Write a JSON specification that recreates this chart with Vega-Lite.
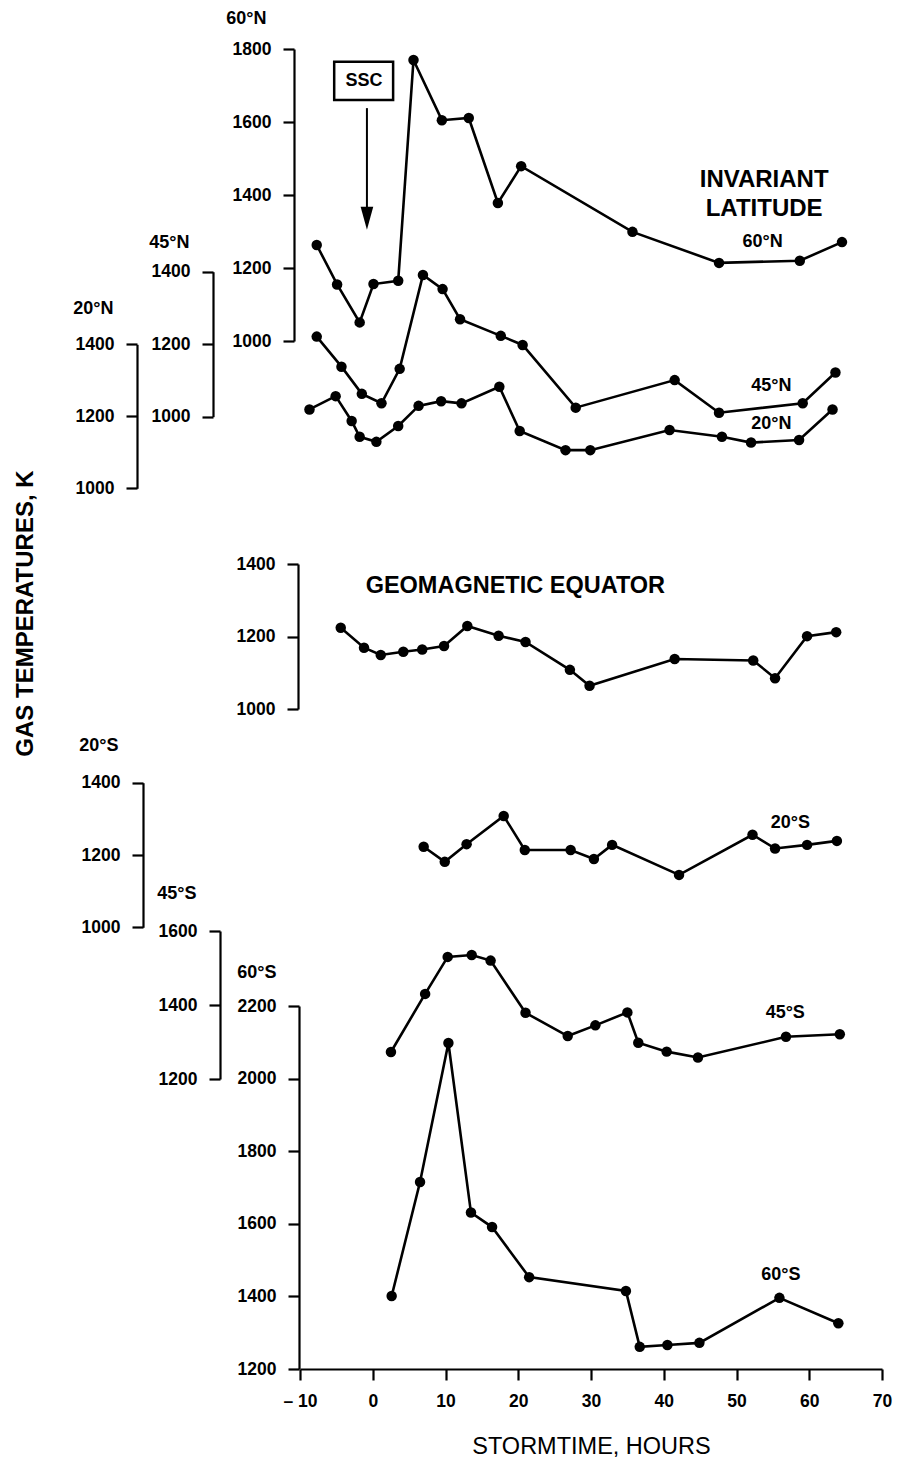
{
  "$schema": "https://vega.github.io/schema/vega-lite/v6.json",
  "width": 582,
  "height": 1369,
  "autosize": {"type": "none"},
  "padding": {"left": 300, "top": 0, "right": 19, "bottom": 90},
  "background": "white",
  "config": {
    "view": {"stroke": null},
    "font": "Liberation Sans",
    "mark": {"color": "black"},
    "line": {"color": "black", "strokeWidth": 2.6},
    "point": {"filled": true, "color": "black", "size": 110, "opacity": 1},
    "text": {"font": "Liberation Sans", "fontWeight": "bold", "color": "black", "align": "center", "baseline": "middle"},
    "axis": {
      "grid": false,
      "domainColor": "black",
      "domainWidth": 2.2,
      "tickColor": "black",
      "tickWidth": 2.2,
      "tickSize": 11,
      "labelPadding": 12,
      "labelFont": "Liberation Sans",
      "labelFontSize": 17.5,
      "labelFontWeight": "bold",
      "labelColor": "black",
      "titleFont": "Liberation Sans",
      "titleColor": "black",
      "titleFontWeight": "bold"
    }
  },
  "datasets": {
    "n60": [
      {"h": -7.7, "T": 1263}, {"h": -4.9, "T": 1155}, {"h": -1.8, "T": 1051}, {"h": 0.1, "T": 1156},
      {"h": 3.5, "T": 1165}, {"h": 5.6, "T": 1770}, {"h": 9.5, "T": 1605}, {"h": 13.2, "T": 1611},
      {"h": 17.2, "T": 1378}, {"h": 20.4, "T": 1479}, {"h": 35.7, "T": 1299}, {"h": 47.6, "T": 1214},
      {"h": 58.7, "T": 1220}, {"h": 64.5, "T": 1271}
    ],
    "n45": [
      {"h": -7.7, "T": 1221}, {"h": -4.3, "T": 1138}, {"h": -1.5, "T": 1063}, {"h": 1.2, "T": 1037},
      {"h": 3.7, "T": 1132}, {"h": 6.9, "T": 1391}, {"h": 9.6, "T": 1352}, {"h": 12.0, "T": 1269},
      {"h": 17.6, "T": 1223}, {"h": 20.6, "T": 1198}, {"h": 27.9, "T": 1025}, {"h": 41.5, "T": 1101},
      {"h": 47.6, "T": 1011}, {"h": 59.1, "T": 1037}, {"h": 63.6, "T": 1122}
    ],
    "n20": [
      {"h": -8.7, "T": 1219}, {"h": -5.1, "T": 1256}, {"h": -2.9, "T": 1187}, {"h": -1.8, "T": 1143},
      {"h": 0.5, "T": 1129}, {"h": 3.5, "T": 1173}, {"h": 6.3, "T": 1229}, {"h": 9.4, "T": 1242},
      {"h": 12.2, "T": 1236}, {"h": 17.4, "T": 1282}, {"h": 20.2, "T": 1159}, {"h": 26.5, "T": 1106},
      {"h": 29.9, "T": 1106}, {"h": 40.8, "T": 1162}, {"h": 48.0, "T": 1143}, {"h": 52.0, "T": 1127},
      {"h": 58.6, "T": 1134}, {"h": 63.2, "T": 1219}
    ],
    "eq": [
      {"h": -4.4, "T": 1224}, {"h": -1.2, "T": 1169}, {"h": 1.1, "T": 1149}, {"h": 4.2, "T": 1158},
      {"h": 6.8, "T": 1164}, {"h": 9.8, "T": 1174}, {"h": 13.0, "T": 1229}, {"h": 17.3, "T": 1202},
      {"h": 21.0, "T": 1185}, {"h": 27.1, "T": 1108}, {"h": 29.8, "T": 1064}, {"h": 41.5, "T": 1138},
      {"h": 52.3, "T": 1134}, {"h": 55.3, "T": 1085}, {"h": 59.7, "T": 1201}, {"h": 63.7, "T": 1212}
    ],
    "s20": [
      {"h": 7.0, "T": 1223}, {"h": 9.9, "T": 1181}, {"h": 12.9, "T": 1230}, {"h": 18.0, "T": 1308},
      {"h": 20.9, "T": 1214}, {"h": 27.2, "T": 1214}, {"h": 30.4, "T": 1189}, {"h": 32.9, "T": 1228},
      {"h": 42.1, "T": 1145}, {"h": 52.2, "T": 1256}, {"h": 55.3, "T": 1218}, {"h": 59.7, "T": 1228},
      {"h": 63.8, "T": 1239}
    ],
    "s45": [
      {"h": 2.5, "T": 1273}, {"h": 7.2, "T": 1430}, {"h": 10.3, "T": 1530}, {"h": 13.6, "T": 1535},
      {"h": 16.2, "T": 1520}, {"h": 21.0, "T": 1379}, {"h": 26.8, "T": 1316}, {"h": 30.6, "T": 1345},
      {"h": 35.0, "T": 1380}, {"h": 36.5, "T": 1298}, {"h": 40.4, "T": 1274}, {"h": 44.7, "T": 1258},
      {"h": 56.8, "T": 1314}, {"h": 64.2, "T": 1321}
    ],
    "s60": [
      {"h": 2.6, "T": 1401}, {"h": 6.5, "T": 1715}, {"h": 10.4, "T": 2098}, {"h": 13.5, "T": 1631},
      {"h": 16.4, "T": 1591}, {"h": 21.5, "T": 1453}, {"h": 34.8, "T": 1415}, {"h": 36.7, "T": 1261},
      {"h": 40.5, "T": 1266}, {"h": 44.9, "T": 1272}, {"h": 55.9, "T": 1396}, {"h": 64.0, "T": 1326}
    ],
    "lab_n60": [{"h": 53.6, "T": 1272, "label": "60°N"}],
    "lab_inv": [{"h": 53.8, "T": 1441, "label": "INVARIANT"}, {"h": 53.8, "T": 1361, "label": "LATITUDE"}],
    "ssc_box": [{"h": -5.3, "h2": 2.8, "T": 1660, "T2": 1765}],
    "ssc_text": [{"h": -1.2, "T": 1712, "label": "SSC"}],
    "ssc_arrow": [{"h": -0.8, "T": 1360, "T2": 1638}],
    "ssc_head": [{"h": -0.8, "T": 1336}],
    "lab_n45": [{"h": 54.8, "T": 1085, "label": "45°N"}],
    "lab_n20": [{"h": 54.8, "T": 1178, "label": "20°N"}],
    "lab_eq": [{"h": 19.6, "T": 1339, "label": "GEOMAGNETIC EQUATOR"}],
    "lab_s20": [{"h": 57.4, "T": 1289, "label": "20°S"}],
    "lab_s45": [{"h": 56.7, "T": 1379, "label": "45°S"}],
    "lab_s60": [{"h": 56.1, "T": 1459, "label": "60°S"}]
  },
  "encoding": {
    "x": {
      "field": "h",
      "type": "quantitative",
      "scale": {"domain": [-10, 70], "nice": false, "zero": false},
      "axis": {
        "values": [-10, 0, 10, 20, 30, 40, 50, 60, 70],
        "labelFlush": false,
        "labelExpr": "datum.value < 0 ? '– ' + (-datum.value) : datum.label",
        "format": "d",
        "title": "STORMTIME, HOURS",
        "titleFontSize": 23.5,
        "titleFontWeight": "normal",
        "titleBaseline": "alphabetic",
        "titleY": 84,
        "labelPadding": 12
      }
    }
  },
  "layer": [
    {
      "encoding": {
        "y": {
          "field": "T", "type": "quantitative",
          "scale": {"domain": [1000, 1800], "range": [341, 49], "nice": false, "zero": false},
          "axis": {"orient": "left", "offset": 6, "values": [1000, 1200, 1400, 1600, 1800], "format": "d",
                   "title": "60°N", "titleAngle": 0, "titleAlign": "right", "titleBaseline": "alphabetic", "titleFontSize": 18,
                   "titleX": -28, "titleY": 23}
        }
      },
      "layer": [
        {"data": {"name": "n60"}, "mark": "line"},
        {"data": {"name": "n60"}, "mark": "point"},
        {"data": {"name": "lab_n60"}, "mark": {"type": "text", "fontSize": 18}, "encoding": {"text": {"field": "label"}}},
        {"data": {"name": "lab_inv"}, "mark": {"type": "text", "fontSize": 24}, "encoding": {"text": {"field": "label"}}},
        {"data": {"name": "ssc_box"}, "mark": {"type": "rect", "fill": "white", "stroke": "black", "strokeWidth": 2.5},
         "encoding": {"x2": {"field": "h2"}, "y2": {"field": "T2"}}},
        {"data": {"name": "ssc_text"}, "mark": {"type": "text", "fontSize": 18}, "encoding": {"text": {"field": "label"}}},
        {"data": {"name": "ssc_arrow"}, "mark": {"type": "rule", "strokeWidth": 2}, "encoding": {"y2": {"field": "T2"}}},
        {"data": {"name": "ssc_head"}, "mark": {"type": "point", "shape": "M-0.55,-1L0.55,-1L0,1Z", "filled": true, "size": 529}}
      ]
    },
    {
      "encoding": {
        "y": {
          "field": "T", "type": "quantitative",
          "scale": {"domain": [1000, 1400], "range": [416.7, 271.7], "nice": false, "zero": false},
          "axis": {"orient": "left", "offset": 87, "values": [1000, 1200, 1400], "format": "d",
                   "title": "45°N", "titleAngle": 0, "titleAlign": "right", "titleBaseline": "alphabetic", "titleFontSize": 18,
                   "titleX": -24, "titleY": 247}
        }
      },
      "layer": [
        {"data": {"name": "n45"}, "mark": "line"},
        {"data": {"name": "n45"}, "mark": "point"},
        {"data": {"name": "lab_n45"}, "mark": {"type": "text", "fontSize": 18}, "encoding": {"text": {"field": "label"}}}
      ]
    },
    {
      "encoding": {
        "y": {
          "field": "T", "type": "quantitative",
          "scale": {"domain": [1000, 1400], "range": [488.3, 344.3], "nice": false, "zero": false},
          "axis": {"orient": "left", "offset": 163, "values": [1000, 1200, 1400], "format": "d",
                   "title": "20°N", "titleAngle": 0, "titleAlign": "right", "titleBaseline": "alphabetic", "titleFontSize": 18,
                   "titleX": -24, "titleY": 313}
        }
      },
      "layer": [
        {"data": {"name": "n20"}, "mark": "line"},
        {"data": {"name": "n20"}, "mark": "point"},
        {"data": {"name": "lab_n20"}, "mark": {"type": "text", "fontSize": 18}, "encoding": {"text": {"field": "label"}}}
      ]
    },
    {
      "encoding": {
        "y": {
          "field": "T", "type": "quantitative",
          "scale": {"domain": [1000, 1400], "range": [709, 564], "nice": false, "zero": false},
          "axis": {"orient": "left", "offset": 2, "values": [1000, 1200, 1400], "format": "d",
                   "title": "GAS TEMPERATURES, K", "titleAngle": 270, "titleAlign": "center", "titleBaseline": "middle",
                   "titleFontSize": 24, "titleX": -273, "titleY": 613}
        }
      },
      "layer": [
        {"data": {"name": "eq"}, "mark": "line"},
        {"data": {"name": "eq"}, "mark": "point"},
        {"data": {"name": "lab_eq"}, "mark": {"type": "text", "fontSize": 23.5}, "encoding": {"text": {"field": "label"}}}
      ]
    },
    {
      "encoding": {
        "y": {
          "field": "T", "type": "quantitative",
          "scale": {"domain": [1000, 1400], "range": [927.3, 782.7], "nice": false, "zero": false},
          "axis": {"orient": "left", "offset": 157, "values": [1000, 1200, 1400], "format": "d",
                   "title": "20°S", "titleAngle": 0, "titleAlign": "right", "titleBaseline": "alphabetic", "titleFontSize": 18,
                   "titleX": -25, "titleY": 750}
        }
      },
      "layer": [
        {"data": {"name": "s20"}, "mark": "line"},
        {"data": {"name": "s20"}, "mark": "point"},
        {"data": {"name": "lab_s20"}, "mark": {"type": "text", "fontSize": 18}, "encoding": {"text": {"field": "label"}}}
      ]
    },
    {
      "encoding": {
        "y": {
          "field": "T", "type": "quantitative",
          "scale": {"domain": [1200, 1600], "range": [1079, 931], "nice": false, "zero": false},
          "axis": {"orient": "left", "offset": 80, "values": [1200, 1400, 1600], "format": "d",
                   "title": "45°S", "titleAngle": 0, "titleAlign": "right", "titleBaseline": "alphabetic", "titleFontSize": 18,
                   "titleX": -24, "titleY": 898}
        }
      },
      "layer": [
        {"data": {"name": "s45"}, "mark": "line"},
        {"data": {"name": "s45"}, "mark": "point"},
        {"data": {"name": "lab_s45"}, "mark": {"type": "text", "fontSize": 18}, "encoding": {"text": {"field": "label"}}}
      ]
    },
    {
      "encoding": {
        "y": {
          "field": "T", "type": "quantitative",
          "scale": {"domain": [1200, 2200], "range": [1369, 1006], "nice": false, "zero": false},
          "axis": {"orient": "left", "offset": 1, "values": [1200, 1400, 1600, 1800, 2000, 2200], "format": "d",
                   "title": "60°S", "titleAngle": 0, "titleAlign": "right", "titleBaseline": "alphabetic", "titleFontSize": 18,
                   "titleX": -23, "titleY": 977}
        }
      },
      "layer": [
        {"data": {"name": "s60"}, "mark": "line"},
        {"data": {"name": "s60"}, "mark": "point"},
        {"data": {"name": "lab_s60"}, "mark": {"type": "text", "fontSize": 18}, "encoding": {"text": {"field": "label"}}}
      ]
    }
  ],
  "resolve": {"scale": {"y": "independent"}, "axis": {"y": "independent"}}
}
